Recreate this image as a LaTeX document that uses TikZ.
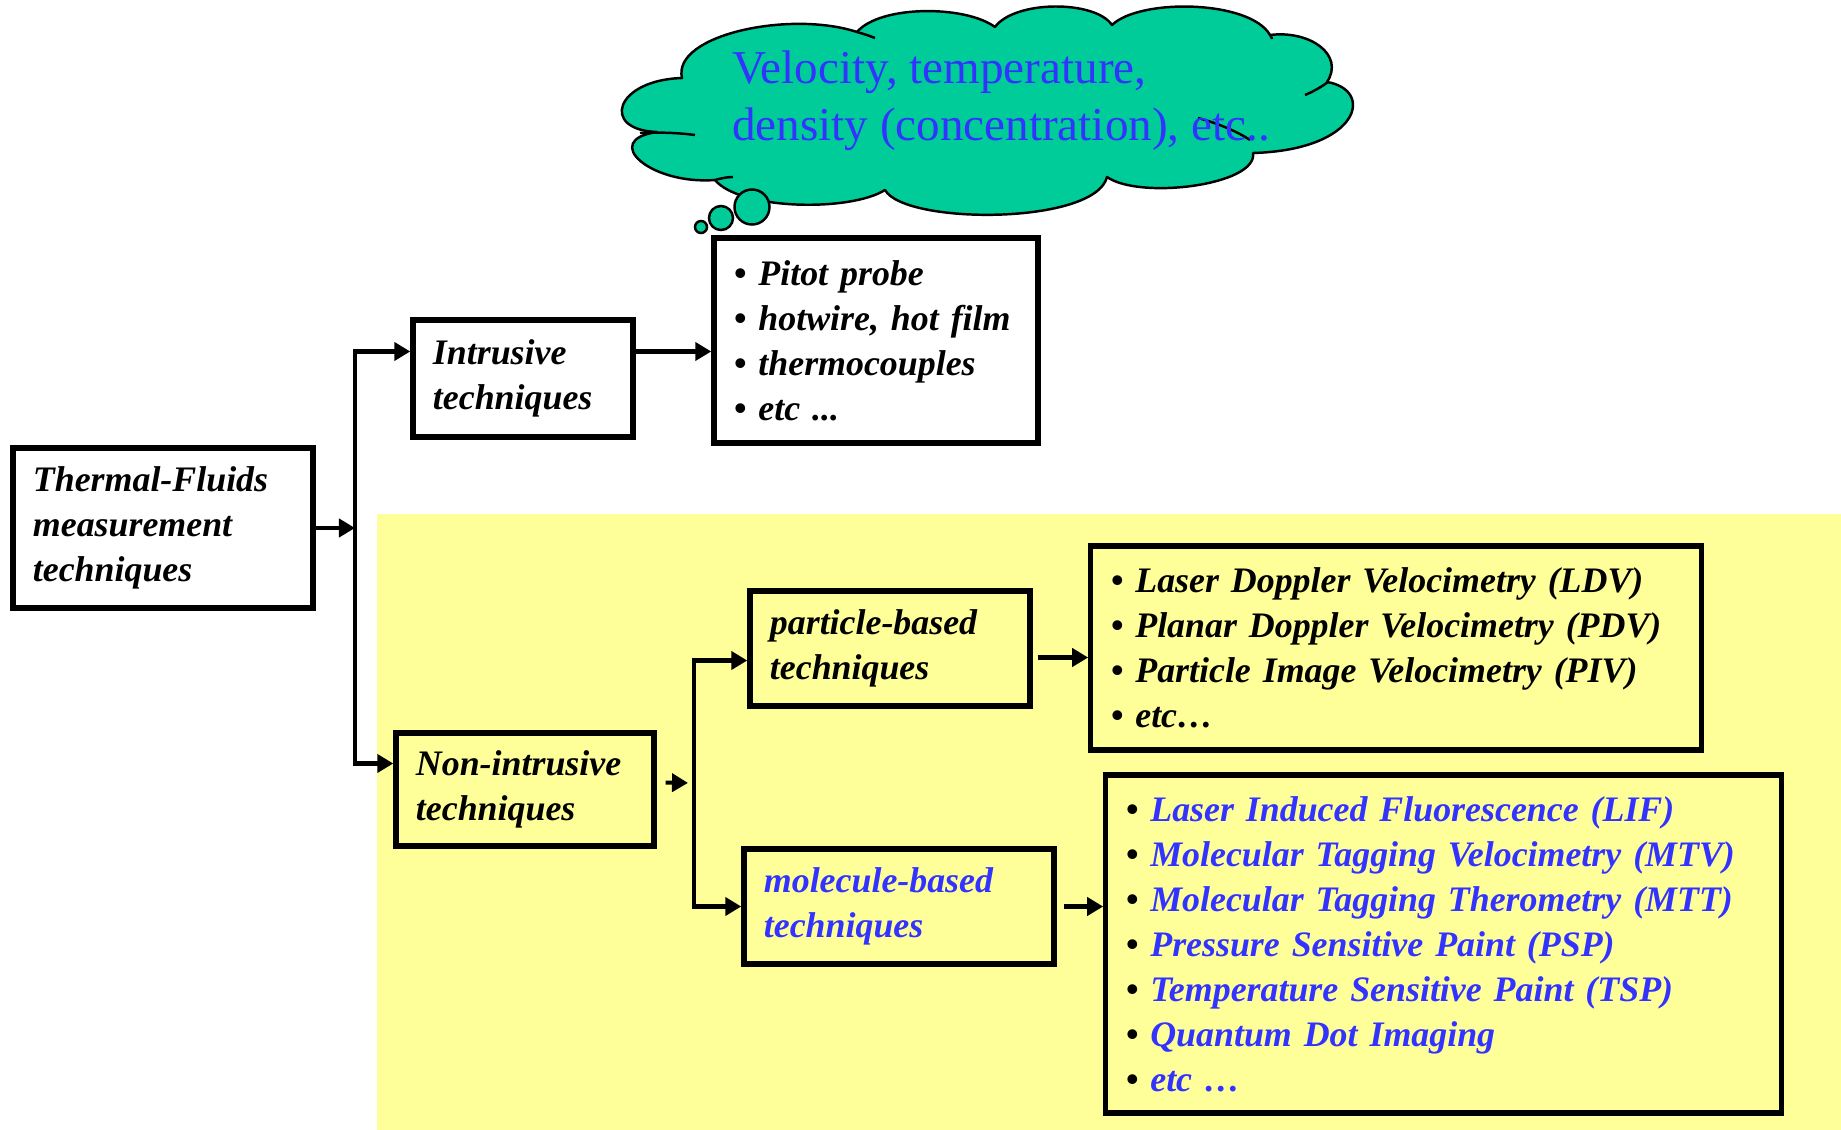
\documentclass[tikz,border=0pt]{standalone}
\usepackage{fontspec}
\setmainfont{Liberation Serif}
\usepackage{xcolor}
\usetikzlibrary{arrows.meta,positioning}
\definecolor{slideyellow}{HTML}{FFFF99}
\definecolor{cloudgreen}{HTML}{00CC99}
\definecolor{textblue}{HTML}{3333FF}
\newcommand{\blkbullet}{\textcolor{black}{•}~}
\tikzset{
  box/.style={draw=black, line width=1.5pt, align=left, inner xsep=2mm, inner ysep=0pt, font=\fontsize{10.2}{12.8}\selectfont\bfseries\itshape},
  arrow/.style={-{Triangle[length=1.6mm,width=1.8mm]}, line width=1.15pt, draw=black},
  cloudline/.style={draw=black, line width=0.7pt, line join=round},
  bubble/.style={circle, draw=black, line width=0.7pt, fill=cloudgreen, inner sep=0pt}
}

\begin{document}
\begin{tikzpicture}[x=0.01cm, y=-0.01cm]
  \useasboundingbox (0,0) rectangle (1841,1130);
  \fill[slideyellow] (377,514) rectangle (1841,1130);

  % thought cloud
  \filldraw[cloudline, fill=cloudgreen] (682,78)
    .. controls (672,35) and (790,10) .. (857,32)
    .. controls (880,5) and (965,5) .. (995,27)
    .. controls (1015,0) and (1095,0) .. (1112,25)
    .. controls (1140,-2) and (1250,0) .. (1270,35)
    .. controls (1310,30) and (1345,55) .. (1327,82)
    .. controls (1375,90) and (1360,150) .. (1253,153)
    .. controls (1258,185) and (1140,200) .. (1107,177)
    .. controls (1095,225) and (905,225) .. (885,190)
    .. controls (850,212) and (740,210) .. (715,180)
    .. controls (650,185) and (600,140) .. (657,132)
    .. controls (600,130) and (615,80) .. (682,78) -- cycle;
  \draw[cloudline] (640,133) .. controls (660,132) and (680,133) .. (695,135);
  \draw[cloudline] (715,180) .. controls (722,178) and (728,177) .. (733,177);
  \draw[cloudline] (857,32) .. controls (864,34) and (870,36) .. (875,38);
  \draw[cloudline] (1270,35) .. controls (1271,36) and (1272,38) .. (1272,39);
  \draw[cloudline] (1328,82) .. controls (1320,88) and (1312,92) .. (1305,95);
  \draw[cloudline] (1198,118) .. controls (1220,124) and (1238,132) .. (1250,140);

  \node[bubble, minimum size=3.5mm] (bubbleA) at (752,207) {};
  \node[bubble, minimum size=2.4mm] (bubbleB) at (721,218) {};
  \node[bubble, minimum size=1.2mm] (bubbleC) at (701,227) {};
  \node[font=\fontsize{13.4}{16.1}\selectfont, text=textblue, align=left, inner sep=0pt] (cloudtext) at (1001,101) {Velocity, temperature,\\density (concentration), etc..};

  \node[box, text width=2.6cm, minimum height=1.6cm] (thermal) at (163,528) {Thermal-Fluids\\measurement\\techniques};
  \node[box, text width=1.8cm, minimum height=1.17cm] (intrusive) at (523,378.5) {Intrusive\\techniques};
  \node[box, text width=2.84cm, minimum height=2.05cm] (pitot) at (876,340.5) {• Pitot probe\\• hotwire, hot film\\• thermocouples\\• etc ...};
  \node[box, text width=2.18cm, minimum height=1.13cm] (nonintr) at (525,789.5) {Non-intrusive\\techniques};
  \node[box, text width=2.4cm, minimum height=1.15cm] (particle) at (890,648.5) {particle-based\\techniques};
  \node[box, text width=2.7cm, minimum height=1.15cm, text=textblue] (molecule) at (899,906.5) {molecule-based\\techniques};
  \node[box, text width=5.7cm, minimum height=2.04cm] (plist) at (1396,648) {• Laser Doppler Velocimetry (LDV)\\• Planar Doppler Velocimetry (PDV)\\• Particle Image Velocimetry (PIV)\\• etc…};
  \node[box, text width=6.35cm, minimum height=3.38cm, text=textblue] (mlist) at (1443.5,944) {\blkbullet Laser Induced Fluorescence (LIF)\\\blkbullet Molecular Tagging Velocimetry (MTV)\\\blkbullet Molecular Tagging Therometry (MTT)\\\blkbullet Pressure Sensitive Paint (PSP)\\\blkbullet Temperature Sensitive Paint (TSP)\\\blkbullet Quantum Dot Imaging\\\blkbullet etc …};

  \coordinate (jA) at (355,528);
  \coordinate (jB) at (694,783);
  \coordinate (intrIn) at ([yshift=2.7mm]intrusive.west);
  \coordinate (intrOut) at ([yshift=2.7mm]intrusive.east);
  \coordinate (nonIn) at ([yshift=2.6mm]nonintr.west);
  \coordinate (nonOut) at ([yshift=0.7mm]nonintr.east);
  \coordinate (partIn) at ([yshift=-1.2mm]particle.west);
  \coordinate (partOut) at ([yshift=-0.9mm]particle.east);

  \draw[arrow] (thermal.east) -- (jA);
  \draw[arrow] (jA) |- (intrIn);
  \draw[arrow] (jA) |- (nonIn);
  \draw[arrow] (intrOut) -- (intrOut -| pitot.west);
  \draw[arrow, shorten <=0.9mm, shorten >=0.6mm] (nonOut) -- (jB);
  \draw[arrow] (jB) |- (partIn);
  \draw[arrow] (jB) |- (molecule.west);
  \draw[arrow, shorten <=0.5mm] (partOut) -- (partOut -| plist.west);
  \draw[arrow, shorten <=0.7mm] (molecule.east) -- (molecule.east -| mlist.west);
\end{tikzpicture}
\end{document}
